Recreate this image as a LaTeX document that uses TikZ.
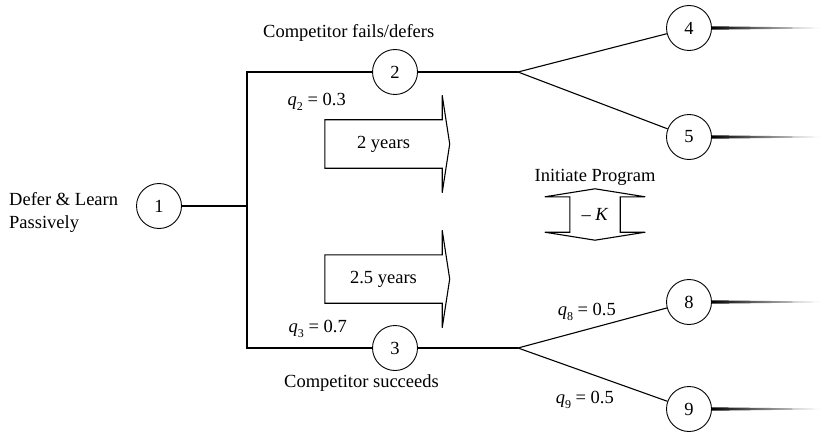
\documentclass[tikz,border=0pt]{standalone}
\usepackage{fontspec}
\setmainfont{Liberation Serif}
\usetikzlibrary{calc}
\newcommand{\lsize}{\fontsize{18.5}{23}\selectfont}
\newcommand{\qlab}[2]{\textit{q}\raisebox{-0.6ex}{\fontsize{12}{14}\selectfont #1} = #2}
\tikzset{
  chance/.style={circle, draw, line width=0.9pt, minimum size=45pt, inner sep=0pt, font=\lsize},
  lbl/.style={font=\lsize, inner sep=1pt},
  br/.style={line width=1.1pt},
  bodybox/.style={inner sep=0pt, font=\lsize},
  outl/.style={line width=1.1pt, line join=miter},
}
% big timing arrow drawn round a body node
\newcommand{\timearrow}[1]{%
  \draw[outl] (#1.south west) -- (#1.north west) -- (#1.north east)
    -- ([yshift=24.5pt]#1.north east) -- ([xshift=7.5pt]#1.east)
    -- ([yshift=-24.5pt]#1.south east) -- (#1.south east) -- cycle;}
% fading payoff tail right of an end node
\newcommand{\fadetail}[1]{%
  \shade[left color=black, middle color=black!55, right color=white]
    ([yshift=1.7pt]#1.east) -- ++(110pt,-1.3pt) -- ++(0pt,-0.8pt)
    -- ([yshift=-1.7pt]#1.east) -- cycle;}

\begin{document}
\begin{tikzpicture}[x=1pt, y=-1pt]
  \useasboundingbox (0,0) rectangle (821,433);
  % decision tree
  \node[chance] (n1) at (159,206) {1};
  \node[chance] (n2) at (395,72) {2};
  \node[chance] (n3) at (395,348) {3};
  \node[chance] (n4) at (689,28) {4};
  \node[chance] (n5) at (689,137) {5};
  \node[chance] (n8) at (689,302) {8};
  \node[chance] (n9) at (689,409) {9};
  \coordinate (j1) at (247,206);
  \coordinate (top) at (247,72);
  \coordinate (bot) at (247,348);
  \coordinate (f2) at (518,72);
  \coordinate (f3) at (518,348);
  \draw[br] (n1) -- (j1);
  \draw[br] (n2) -- (top) -- (bot) -- (n3);
  \draw[br] (n2) -- (f2);
  \draw[br] (n3) -- (f3);
  \draw[br] (f2) -- (n4);
  \draw[br] (f2) -- (n5);
  \draw[br] (f3) -- (n8);
  \draw[br] (f3) -- (n9);
  \foreach \t in {n4,n5,n8,n9} {\fadetail{\t}}
  % labels
  \node[lbl, anchor=west, align=left] (dfr) at (8,212) {Defer \& Learn\\Passively};
  \node[lbl, anchor=west] (cfd) at (262,33) {Competitor fails/defers};
  \node[lbl, anchor=east] (csu) at (440,383) {Competitor succeeds};
  \node[lbl, anchor=east] (q2) at (347,102) {\qlab{2}{0.3}};
  \node[lbl, anchor=east] (q3) at (348,329) {\qlab{3}{0.7}};
  \node[lbl, anchor=east] (q8) at (617,312) {\qlab{8}{0.5}};
  \node[lbl, anchor=east] (q9) at (615,400) {\qlab{9}{0.5}};
  % timing arrows
  \node[bodybox, minimum width=117pt, minimum height=48pt] (yr2) at (383.5,144) {2 years};
  \timearrow{yr2}
  \node[bodybox, minimum width=117pt, minimum height=48pt] (yr25) at (383.5,279) {2.5 years};
  \timearrow{yr25}
  % investment cost
  \node[lbl] (init) at (595,177) {Initiate Program};
  \node[bodybox, minimum width=50pt, minimum height=35pt] (cost) at (595,214.5) {– \textit{K}};
  \draw[outl] (cost.north west) -- ([xshift=-25pt]cost.north west) -- ([yshift=8pt]cost.north)
    -- ([xshift=25pt]cost.north east) -- (cost.north east) -- (cost.south east)
    -- ([xshift=25pt]cost.south east) -- ([yshift=-8pt]cost.south)
    -- ([xshift=-25pt]cost.south west) -- (cost.south west) -- cycle;
\end{tikzpicture}
\end{document}
